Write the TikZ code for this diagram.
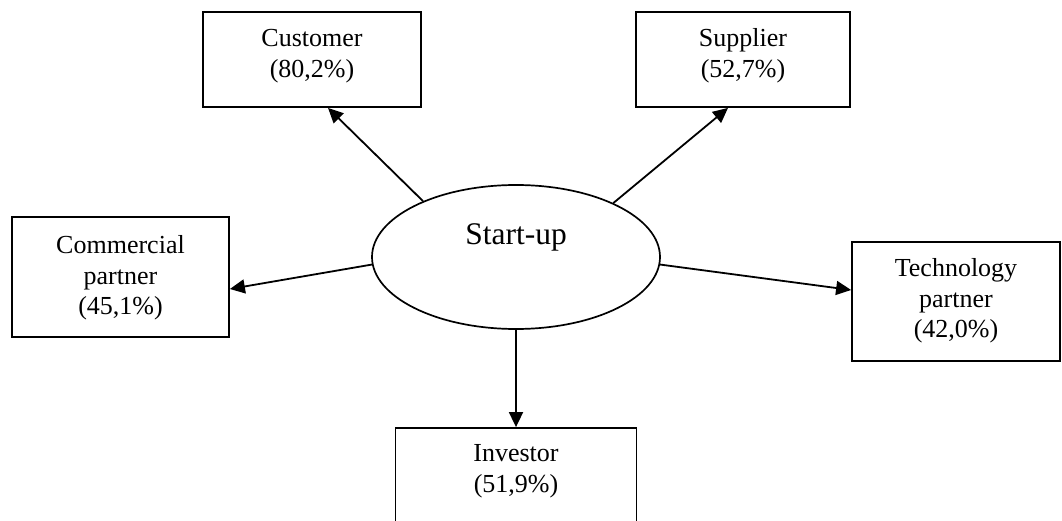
\documentclass[tikz,border=0pt]{standalone}
\usepackage{fontspec}
\setmainfont{Liberation Serif}
\usetikzlibrary{arrows.meta,shapes.geometric}

\tikzset{
  partybox/.style={draw, line width=1.8pt, rectangle, inner sep=0pt},
  hub/.style={draw, line width=1.7pt, ellipse, inner sep=0pt,
              minimum width=288pt, minimum height=144pt},
  boxtext/.style={anchor=north, inner sep=0pt, align=center,
                  font=\fontsize{26}{30.5}\selectfont},
  hubtext/.style={anchor=base, inner sep=0pt,
                  font=\fontsize{31.5}{36}\selectfont},
  link/.style={line width=1.8pt, -{Triangle[length=15pt,width=14pt]}}
}

\begin{document}
\begin{tikzpicture}[x=1pt,y=-1pt]
  % page frame
  \clip (0,0) rectangle (1062,521);
  \fill[white] (0,0) rectangle (1062,521);

  % central start-up
  \node[hub] (ell) at (516,257) {};
  \node[hubtext] (elltxt) at (516,244) {Start-up};

  % partner boxes
  \node[partybox, minimum width=218pt, minimum height=95pt]  (cust) at (312,59.5) {};
  \node[partybox, minimum width=214pt, minimum height=95pt]  (supp) at (743,59.5) {};
  \node[partybox, minimum width=217pt, minimum height=120pt] (comm) at (120.5,277) {};
  \node[partybox, minimum width=208pt, minimum height=119pt] (tech) at (956,301.5) {};
  \node[partybox, minimum width=241pt, minimum height=120pt] (inv)  at (516,488) {};

  % box labels
  \node[boxtext] (custtxt) at ([yshift=-14pt]cust.north) {\strut Customer\\(80,2\%)};
  \node[boxtext] (supptxt) at ([yshift=-14pt]supp.north) {\strut Supplier\\(52,7\%)};
  \node[boxtext] (commtxt) at ([yshift=-16pt]comm.north) {\strut Commercial\\partner\\(45,1\%)};
  \node[boxtext] (techtxt) at ([yshift=-14pt]tech.north) {\strut Technology\\partner\\(42,0\%)};
  \node[boxtext] (invtxt)  at ([yshift=-13pt]inv.north)  {\strut Investor\\(51,9\%)};

  % relations
  \draw[link] (ell.149.3) -- ([xshift=16pt]cust.south);
  \draw[link] (ell.29.8)  -- ([xshift=-15pt]supp.south);
  \draw[link] (ell.183.6) -- ([yshift=-12pt]comm.east);
  \draw[link] (ell.-3.2)  -- ([yshift=11.5pt]tech.west);
  \draw[link] (ell.south) -- (inv.north);
\end{tikzpicture}
\end{document}
